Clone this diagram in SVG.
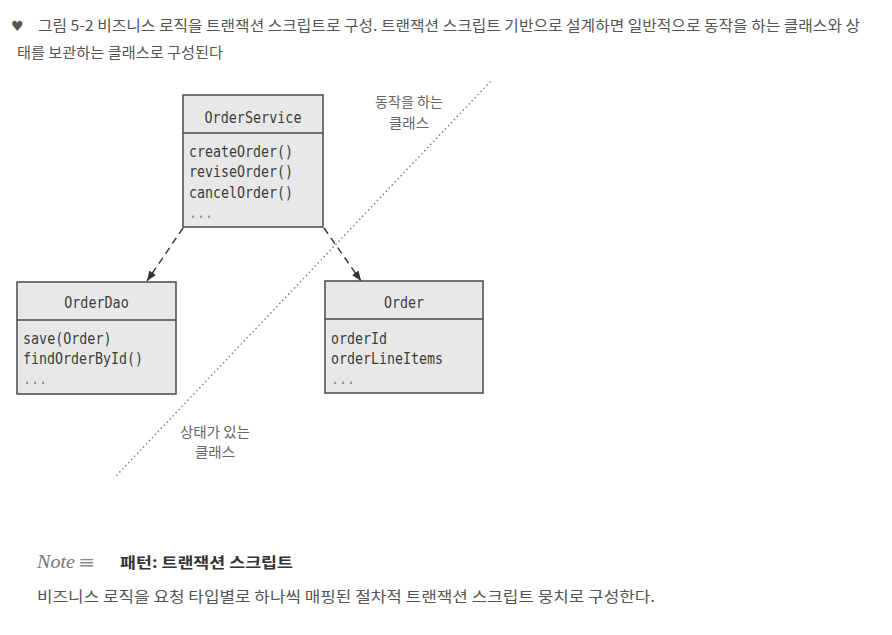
<svg xmlns="http://www.w3.org/2000/svg" width="892" height="635" viewBox="0 0 892 635">
<defs>
<marker id="ah" viewBox="0 0 10 10" refX="10" refY="5" markerWidth="10" markerHeight="10" markerUnits="userSpaceOnUse" orient="auto">
<path d="M0,1 L10,5 L0,9 Z" fill="#333"/>
</marker>
</defs>
<style>
.cap{font-family:"Noto Sans CJK KR","Noto Sans",sans-serif;font-size:14.5px;fill:#555}
.lbl{font-family:"Noto Sans CJK KR","Noto Sans",sans-serif;font-size:14px;fill:#666;text-anchor:middle}
.box{fill:#e8e8e8;stroke:#4a4a4a;stroke-width:1.5}
.sep{stroke:#4a4a4a;stroke-width:1.5}
.mono{font-family:"DejaVu Sans Mono","Liberation Mono",monospace;font-size:15.5px;fill:#3d3d3d}
.title{text-anchor:middle}
.dots{fill:#888}
.dash{fill:none;stroke:#333;stroke-width:1.4;stroke-dasharray:7 5}
.dotted{fill:none;stroke:#777;stroke-width:1.5;stroke-dasharray:0.1 4.2;stroke-linecap:round}
</style>
<rect width="892" height="635" fill="#fff"/>
<text x="11" y="31" font-family="DejaVu Sans,sans-serif" font-size="14" fill="#555">♥</text>
<text class="cap" x="38" y="31" textLength="822" lengthAdjust="spacingAndGlyphs">그림 5-2 비즈니스 로직을 트랜잭션 스크립트로 구성. 트랜잭션 스크립트 기반으로 설계하면 일반적으로 동작을 하는 클래스와 상</text>
<text class="cap" x="17" y="58" textLength="206" lengthAdjust="spacingAndGlyphs">태를 보관하는 클래스로 구성된다</text>

<g id="divider">
<line class="dotted" x1="490" y1="82" x2="115" y2="477"/>
<text class="lbl" x="409" y="107" textLength="68" lengthAdjust="spacingAndGlyphs">동작을 하는</text>
<text class="lbl" x="409" y="128" textLength="40" lengthAdjust="spacingAndGlyphs">클래스</text>
<text class="lbl" x="215" y="437" textLength="70" lengthAdjust="spacingAndGlyphs">상태가 있는</text>
<text class="lbl" x="215" y="457" textLength="40" lengthAdjust="spacingAndGlyphs">클래스</text>
</g>

<g id="connectors">
<line class="dash" x1="183" y1="228" x2="147" y2="281" marker-end="url(#ah)"/>
<line class="dash" x1="324" y1="228" x2="361" y2="281" marker-end="url(#ah)"/>
</g>

<g id="OrderService">
<rect class="box" x="183" y="95" width="140" height="132"/>
<line class="sep" x1="183" y1="133" x2="323" y2="133"/>
<text class="mono title" x="253" y="122.5" textLength="97" lengthAdjust="spacingAndGlyphs">OrderService</text>
<text class="mono" x="189" y="156.5" textLength="104" lengthAdjust="spacingAndGlyphs">createOrder()</text>
<text class="mono" x="189" y="176.5" textLength="104" lengthAdjust="spacingAndGlyphs">reviseOrder()</text>
<text class="mono" x="189" y="197.5" textLength="104" lengthAdjust="spacingAndGlyphs">cancelOrder()</text>
<text class="mono dots" x="189" y="218" textLength="24" lengthAdjust="spacingAndGlyphs">...</text>
</g>

<g id="OrderDao">
<rect class="box" x="17" y="282" width="159" height="112"/>
<line class="sep" x1="17" y1="320" x2="176" y2="320"/>
<text class="mono title" x="96.5" y="307.5" textLength="64.5" lengthAdjust="spacingAndGlyphs">OrderDao</text>
<text class="mono" x="23" y="343.5" textLength="88.5" lengthAdjust="spacingAndGlyphs">save(Order)</text>
<text class="mono" x="23" y="363.5" textLength="120" lengthAdjust="spacingAndGlyphs">findOrderById()</text>
<text class="mono dots" x="23" y="384" textLength="24" lengthAdjust="spacingAndGlyphs">...</text>
</g>

<g id="Order">
<rect class="box" x="325" y="281" width="158" height="112"/>
<line class="sep" x1="325" y1="319" x2="483" y2="319"/>
<text class="mono title" x="404" y="307.5" textLength="40" lengthAdjust="spacingAndGlyphs">Order</text>
<text class="mono" x="331" y="343.5" textLength="56" lengthAdjust="spacingAndGlyphs">orderId</text>
<text class="mono" x="331" y="363.5" textLength="112" lengthAdjust="spacingAndGlyphs">orderLineItems</text>
<text class="mono dots" x="331" y="384" textLength="24" lengthAdjust="spacingAndGlyphs">...</text>
</g>

<g id="note">
<text x="37" y="568" font-family="Liberation Serif,serif" font-style="italic" font-size="19" fill="#777" textLength="38" lengthAdjust="spacingAndGlyphs">Note</text>
<text x="78" y="568" font-family="DejaVu Sans,sans-serif" font-size="17" fill="#888" textLength="17" lengthAdjust="spacingAndGlyphs">≡</text>
<text x="120" y="568" font-family="Noto Sans CJK KR,sans-serif" font-size="15" font-weight="bold" fill="#333" textLength="173" lengthAdjust="spacingAndGlyphs">패턴: 트랜잭션 스크립트</text>
<text class="cap" x="37" y="602" textLength="618" lengthAdjust="spacingAndGlyphs">비즈니스 로직을 요청 타입별로 하나씩 매핑된 절차적 트랜잭션 스크립트 뭉치로 구성한다.</text>
</g>
</svg>
